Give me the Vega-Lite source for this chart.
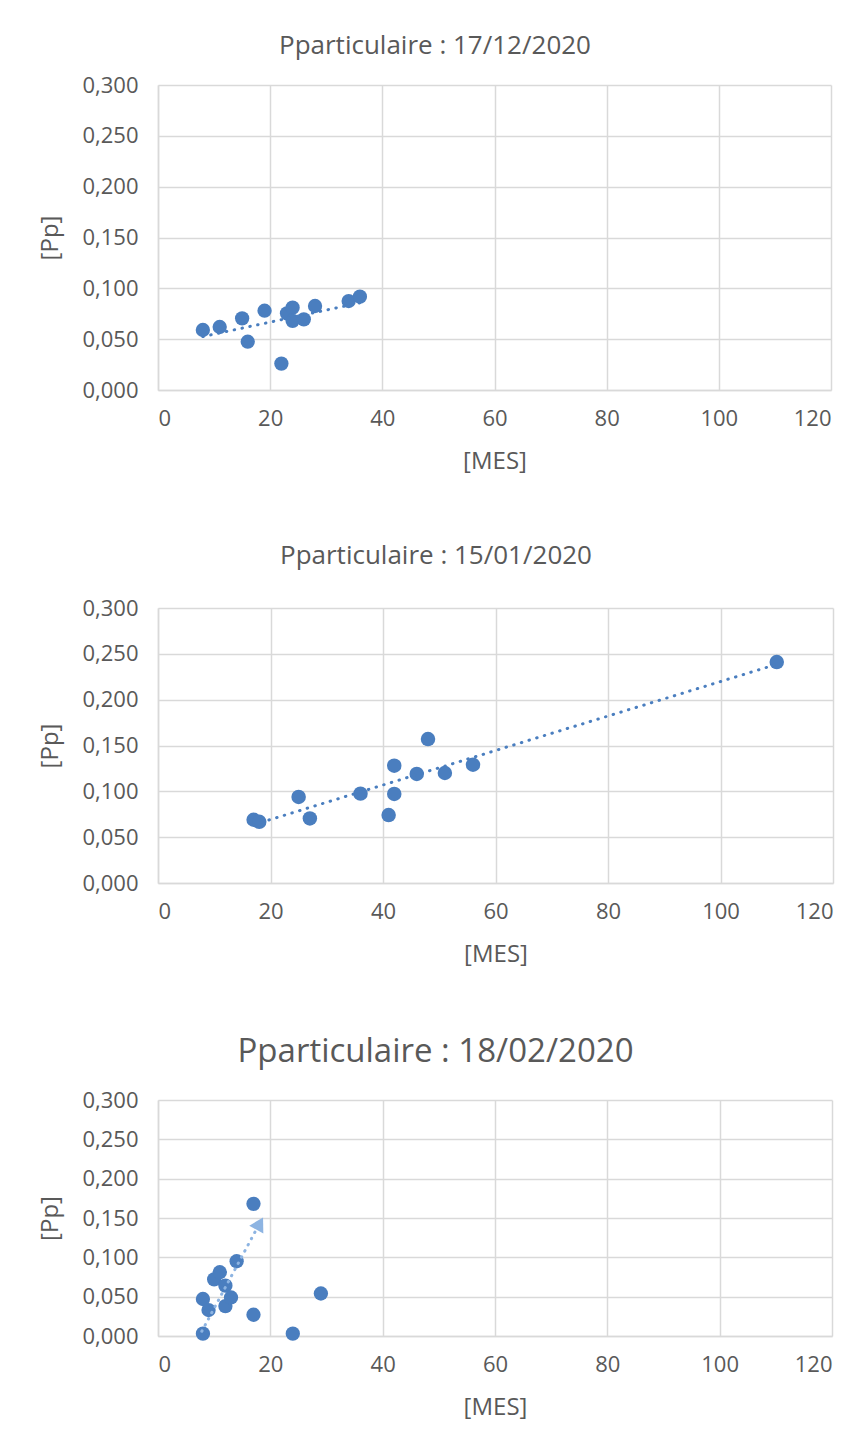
{
  "$schema": "https://vega.github.io/schema/vega-lite/v6.json",
  "background": "white",
  "padding": {"left": 38, "top": 33, "right": 5, "bottom": 5},
  "spacing": 70,
  "datasets": {
    "p1": [
      {"MES": 8, "Pp": 0.059}, {"MES": 11, "Pp": 0.062}, {"MES": 15, "Pp": 0.0705},
      {"MES": 16, "Pp": 0.0475}, {"MES": 19, "Pp": 0.078}, {"MES": 22, "Pp": 0.026},
      {"MES": 23, "Pp": 0.0754}, {"MES": 24, "Pp": 0.081}, {"MES": 24, "Pp": 0.068},
      {"MES": 26, "Pp": 0.0695}, {"MES": 28, "Pp": 0.0826}, {"MES": 34, "Pp": 0.0875},
      {"MES": 36, "Pp": 0.0918}
    ],
    "p2": [
      {"MES": 17, "Pp": 0.069}, {"MES": 18, "Pp": 0.0668}, {"MES": 25, "Pp": 0.0939},
      {"MES": 27, "Pp": 0.0704}, {"MES": 36, "Pp": 0.0975}, {"MES": 41, "Pp": 0.0741},
      {"MES": 42, "Pp": 0.128}, {"MES": 42, "Pp": 0.0971}, {"MES": 46, "Pp": 0.119},
      {"MES": 48, "Pp": 0.157}, {"MES": 51, "Pp": 0.12}, {"MES": 56, "Pp": 0.129},
      {"MES": 110, "Pp": 0.241}
    ],
    "p3": [
      {"MES": 8, "Pp": 0.003}, {"MES": 8, "Pp": 0.047}, {"MES": 9, "Pp": 0.033},
      {"MES": 10, "Pp": 0.072}, {"MES": 11, "Pp": 0.081}, {"MES": 12, "Pp": 0.064},
      {"MES": 12, "Pp": 0.038}, {"MES": 13, "Pp": 0.049}, {"MES": 14, "Pp": 0.095},
      {"MES": 17, "Pp": 0.168}, {"MES": 17, "Pp": 0.027}, {"MES": 24, "Pp": 0.003},
      {"MES": 29, "Pp": 0.054}
    ],
    "arrowline": [
      {"MES": 7.8, "Pp": 0.006}, {"MES": 17.4, "Pp": 0.134}
    ],
    "arrowhead": [
      {"MES": 18.1, "Pp": 0.143}
    ]
  },
  "config": {
    "view": {"stroke": null},
    "font": "Open Sans",
    "axis": {
      "gridColor": "#d9d9d9", "gridWidth": 1.5,
      "domainColor": "#d9d9d9", "domainWidth": 1.5,
      "ticks": false,
      "labelOverlap": false,
      "labelColor": "#595959", "labelFont": "Open Sans", "labelFontSize": 22,
      "titleColor": "#595959", "titleFont": "Open Sans", "titleFontSize": 24, "titleFontWeight": "normal"
    },
    "axisX": {"labelPadding": 18, "titlePadding": 20},
    "axisY": {"labelPadding": 20, "titlePadding": 19},
    "title": {"font": "Open Sans", "fontWeight": "normal", "color": "#595959", "fontSize": 26, "offset": 28, "frame": "bounds", "anchor": "middle"}
  },
  "vconcat": [
    {
      "title": {"text": "Pparticulaire : 17/12/2020", "offset": 15},
      "width": 673, "height": 305,
      "data": {"name": "p1"},
      "encoding": {
        "x": {"field": "MES", "type": "quantitative", "scale": {"domain": [0, 120], "nice": false}, "axis": {"values": [0, 20, 40, 60, 80, 100, 120], "title": "[MES]"}},
        "y": {"field": "Pp", "type": "quantitative", "scale": {"domain": [0, 0.3], "nice": false}, "axis": {"values": [0, 0.05, 0.1, 0.15, 0.2, 0.25, 0.3], "title": "[Pp]", "labelExpr": "replace(format(datum.value, '.3f'), '.', ',')"}}
      },
      "layer": [
        {
          "mark": {"type": "circle", "size": 205, "color": "#4a7ebf", "opacity": 1}
        },
        {
          "transform": [{"regression": "Pp", "on": "MES"}],
          "mark": {"type": "line", "color": "#4a7ebf", "strokeWidth": 3, "strokeDash": [0.5, 7.5], "strokeCap": "round"}
        }
      ]
    },
    {
      "title": {"text": "Pparticulaire : 15/01/2020", "offset": 28},
      "width": 675, "height": 275,
      "data": {"name": "p2"},
      "encoding": {
        "x": {"field": "MES", "type": "quantitative", "scale": {"domain": [0, 120], "nice": false}, "axis": {"values": [0, 20, 40, 60, 80, 100, 120], "title": "[MES]"}},
        "y": {"field": "Pp", "type": "quantitative", "scale": {"domain": [0, 0.3], "nice": false}, "axis": {"values": [0, 0.05, 0.1, 0.15, 0.2, 0.25, 0.3], "title": "[Pp]", "labelExpr": "replace(format(datum.value, '.3f'), '.', ',')"}}
      },
      "layer": [
        {
          "mark": {"type": "circle", "size": 210, "color": "#4a7ebf", "opacity": 1}
        },
        {
          "transform": [{"regression": "Pp", "on": "MES"}],
          "mark": {"type": "line", "color": "#4a7ebf", "strokeWidth": 3, "strokeDash": [0.5, 7.5], "strokeCap": "round"}
        }
      ]
    },
    {
      "title": {"text": "Pparticulaire : 18/02/2020", "fontSize": 33, "offset": 20},
      "width": 674, "height": 236,
      "encoding": {
        "x": {"field": "MES", "type": "quantitative", "scale": {"domain": [0, 120], "nice": false}, "axis": {"values": [0, 20, 40, 60, 80, 100, 120], "title": "[MES]"}},
        "y": {"field": "Pp", "type": "quantitative", "scale": {"domain": [0, 0.3], "nice": false}, "axis": {"values": [0, 0.05, 0.1, 0.15, 0.2, 0.25, 0.3], "title": "[Pp]", "labelExpr": "replace(format(datum.value, '.3f'), '.', ',')"}}
      },
      "layer": [
        {
          "data": {"name": "p3"},
          "mark": {"type": "circle", "size": 205, "color": "#4a7ebf", "opacity": 1}
        },
        {
          "data": {"name": "arrowline"},
          "mark": {"type": "line", "color": "#8db4e2", "strokeWidth": 3, "strokeDash": [0.5, 6.5], "strokeCap": "round"}
        },
        {
          "data": {"name": "arrowhead"},
          "mark": {"type": "point", "shape": "triangle-up", "filled": true, "size": 260, "color": "#8db4e2", "opacity": 1, "angle": 29}
        }
      ]
    }
  ]
}
